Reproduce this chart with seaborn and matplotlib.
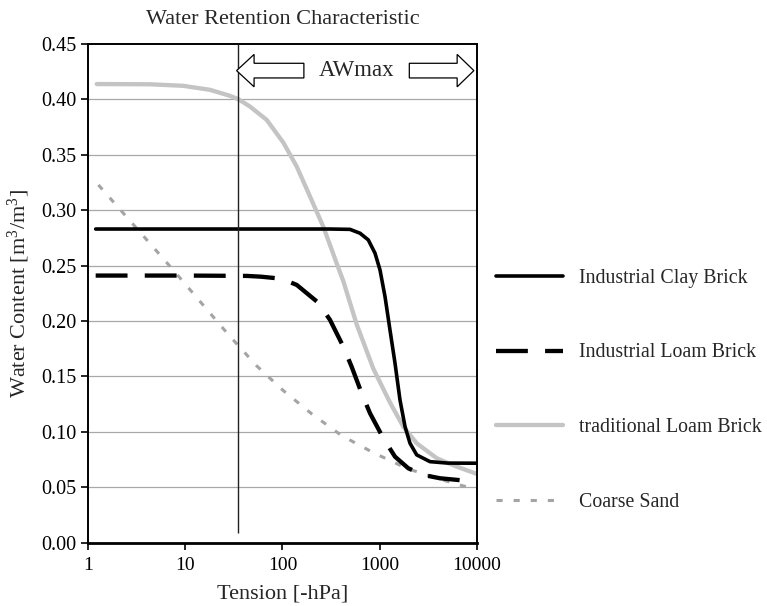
"""
Water retention characteristic of brick materials vs. coarse sand.
Values read off the published figure (tension in -hPa, water content in m3/m3).
"""

import matplotlib.pyplot as plt
from matplotlib.patches import Polygon
import seaborn as sns

# --- data ---------------------------------------------------------------
clay_tension = [1.2, 100, 308, 494, 627, 762, 894, 1006, 1133, 1274, 1435, 1615, 1820, 2047, 2399, 3288, 5000, 10000]
clay_content = [0.283, 0.283, 0.283, 0.2827, 0.2792, 0.2732, 0.2612, 0.2461, 0.222, 0.192, 0.162, 0.1288, 0.1047, 0.0897, 0.0792, 0.0731, 0.0718, 0.0717]

loam_tension = [1.2, 10, 42.9, 60, 87.1, 110, 140, 233, 308, 422, 514, 652, 794, 1089, 1435, 1968, 2806, 4169, 8147]
loam_content = [0.241, 0.241, 0.2407, 0.2400, 0.2386, 0.2363, 0.2326, 0.2166, 0.201, 0.1769, 0.1588, 0.1348, 0.1168, 0.0942, 0.0776, 0.0671, 0.0611, 0.0581, 0.0557]

trad_tension = [1.23, 4.34, 9.55, 17.97, 28.8, 35.4, 46.3, 68.8, 102, 140, 192, 263, 361, 422, 579, 859, 1274, 1746, 2399, 3855, 6185, 10000]
trad_content = [0.4138, 0.4136, 0.4122, 0.4086, 0.4032, 0.400, 0.3935, 0.3815, 0.361, 0.3394, 0.3123, 0.285, 0.252, 0.236, 0.197, 0.157, 0.1265, 0.1047, 0.0897, 0.0762, 0.0686, 0.062]

sand_tension = [1.28, 3.16, 7.53, 22.8, 30, 54.3, 102, 200, 406, 859, 1892, 3855, 6683, 10000]
sand_content = [0.3228, 0.2837, 0.246, 0.1965, 0.1845, 0.1595, 0.1372, 0.1162, 0.0966, 0.0812, 0.0671, 0.0581, 0.052, 0.048]

aw_tension = 35  # start of the AWmax range
y_ticks = [0.00, 0.05, 0.10, 0.15, 0.20, 0.25, 0.30, 0.35, 0.40, 0.45]
x_ticks = [1, 10, 100, 1000, 10000]
x_ticklabels = ["1", "10", "100", "1000", "10000"]


def block_arrow(ax, x_tail, x_tip, y, head_len, head_half, body_half):
    """Outlined block arrow in axes-fraction coordinates."""
    d = 1 if x_tip > x_tail else -1
    x_base = x_tip - d * head_len
    pts = [
        (x_tail, y - body_half), (x_base, y - body_half), (x_base, y - head_half),
        (x_tip, y), (x_base, y + head_half), (x_base, y + body_half), (x_tail, y + body_half),
    ]
    ax.add_patch(Polygon(pts, closed=True, transform=ax.transAxes,
                         facecolor="white", edgecolor="black", linewidth=0.9, zorder=5))


def main():
    sns.set_style("white")
    plt.rcParams["font.family"] = ["Liberation Serif", "DejaVu Serif"]
    plt.rcParams["mathtext.default"] = "regular"

    fig = plt.figure(figsize=(7.67, 6.06), dpi=100)
    ax = fig.add_axes([0.1147, 0.1045, 0.5072, 0.823])

    # grid first so curves sit on top
    for v in y_ticks[1:-1]:
        ax.axhline(v, color="#a8a8a8", lw=0.9, zorder=0)

    sns.lineplot(x=clay_tension, y=clay_content, ax=ax, color="black", linewidth=2.6,
                 label="Industrial Clay Brick", sort=False, zorder=3)
    sns.lineplot(x=loam_tension, y=loam_content, ax=ax, color="black", linewidth=3.1,
                 linestyle=(0, (7.4, 4.0)), label="Industrial Loam Brick", sort=False, zorder=3)
    sns.lineplot(x=trad_tension, y=trad_content, ax=ax, color="#c4c4c4", linewidth=3.1,
                 label="traditional Loam Brick", sort=False, zorder=2)
    sns.lineplot(x=sand_tension, y=sand_content, ax=ax, color="#a4a4a4", linewidth=2.2,
                 linestyle=(0, (2.0, 3.6)), label="Coarse Sand", sort=False, zorder=2)

    ax.vlines(aw_tension, 0.009, 0.45, color="#222222", lw=1.0, zorder=4)

    # AWmax arrows and label
    block_arrow(ax, 0.555, 0.382, 0.9465, 0.045, 0.0325, 0.0147)
    block_arrow(ax, 0.826, 0.992, 0.9465, 0.043, 0.0325, 0.0147)
    ax.text(0.69, 0.947, "AWmax", transform=ax.transAxes, ha="center", va="center",
            fontsize=16.5, zorder=6)

    ax.set_xscale("log")
    ax.set_xlim(1, 10000)
    ax.set_ylim(0, 0.45)
    ax.set_xticks(x_ticks)
    ax.set_xticklabels(x_ticklabels)
    ax.minorticks_off()
    ax.set_yticks(y_ticks)
    ax.set_yticklabels([f"{v:.2f}" for v in y_ticks])
    ax.tick_params(axis="both", direction="out", length=5, width=1.2,
                   left=True, bottom=True, colors="black")
    ax.tick_params(axis="x", labelsize=14, pad=5)
    ax.tick_params(axis="y", labelsize=14.5, pad=3)

    for side in ["left", "right", "top", "bottom"]:
        ax.spines[side].set_visible(True)
        ax.spines[side].set_color("black")
        ax.spines[side].set_linewidth(1.4)
    ax.spines["bottom"].set_linewidth(2.0)

    ax.set_title("Water Retention Characteristic", fontsize=16, pad=14)
    ax.set_xlabel("Tension [-hPa]", fontsize=16, labelpad=8)
    ax.set_ylabel("Water Content [m$^{3}$/m$^{3}$]", fontsize=16, labelpad=7)

    handles, labels = ax.get_legend_handles_labels()
    ax.get_legend().remove()
    fig.legend(handles, labels, loc="center left", bbox_to_anchor=(0.647, 0.356),
               frameon=False, fontsize=14.3, handlelength=3.35, handletextpad=0.8,
               labelspacing=2.8, borderpad=0, borderaxespad=0)

    fig.savefig("out.png", dpi=100)


if __name__ == "__main__":
    main()
